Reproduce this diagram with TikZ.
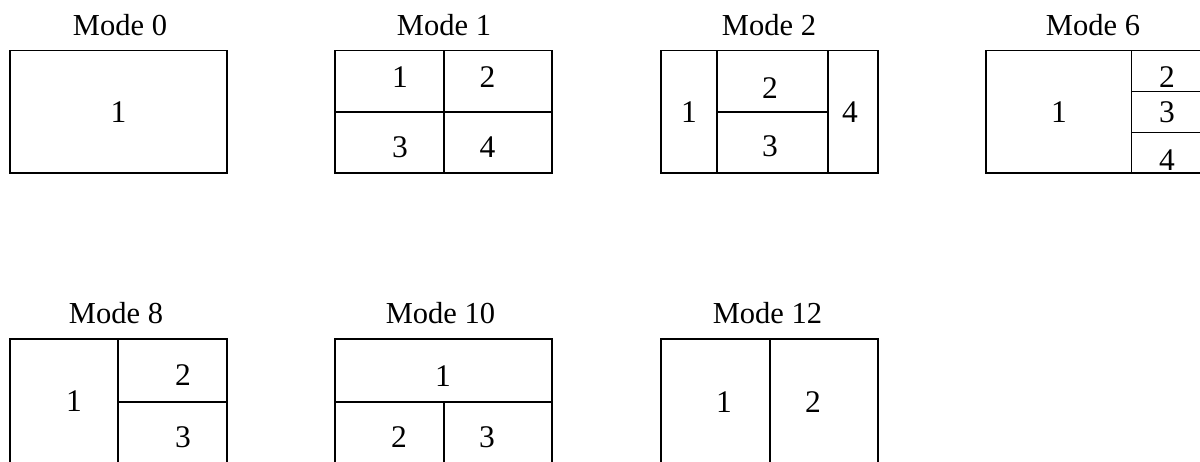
\documentclass[tikz,border=0pt]{standalone}
\usepackage{fontspec}
\setmainfont{Liberation Serif}

\tikzset{
  frame/.style={draw, line width=1.6pt},
  num/.style={font=\fontsize{31.5}{36}\selectfont, inner sep=0pt},
  title/.style={font=\fontsize{30.5}{36}\selectfont, inner sep=0pt}
}

\begin{document}
\begin{tikzpicture}[x=1pt,y=-1pt]
  \useasboundingbox (0,0) rectangle (1200,462);
  % Mode 0
  \node[title] (t0) at (120,25) {Mode 0};
  \draw[frame] (10,50.5) rectangle (227,173);
  \node[num] (m0a) at (118.5,112) {1};
  % Mode 1
  \node[title] (t1) at (444,25) {Mode 1};
  \draw[frame] (335,50.5) rectangle (552,173);
  \draw[frame] (444,50.5) -- (444,173);
  \draw[frame] (335,112) -- (552,112);
  \node[num] (m1a) at (400,77) {1};
  \node[num] (m1b) at (487.5,77) {2};
  \node[num] (m1c) at (400,147) {3};
  \node[num] (m1d) at (487.5,147) {4};
  % Mode 2
  \node[title] (t2) at (769,25) {Mode 2};
  \draw[frame] (661,50.5) rectangle (878,173);
  \draw[frame] (717,50.5) -- (717,173);
  \draw[frame] (828,50.5) -- (828,173);
  \draw[frame] (717,112) -- (828,112);
  \node[num] (m2a) at (689,112) {1};
  \node[num] (m2b) at (770,88) {2};
  \node[num] (m2c) at (770,146) {3};
  \node[num] (m2d) at (850,112) {4};
  % Mode 6
  \node[title] (t6) at (1093,25) {Mode 6};
  \draw[frame] (986,50.5) rectangle (1203,173);
  \draw[frame] (1131.5,50.5) -- (1131.5,173);
  \draw[frame] (1131.5,91.5) -- (1203,91.5);
  \draw[frame] (1131.5,132.5) -- (1203,132.5);
  \node[num] (m6a) at (1059,112) {1};
  \node[num] (m6b) at (1167,77) {2};
  \node[num] (m6c) at (1167,112) {3};
  \node[num] (m6d) at (1167,160) {4};
  % Mode 8
  \node[title] (t8) at (116,313) {Mode 8};
  \draw[frame] (10,339) rectangle (227,462.5);
  \draw[frame] (118,339) -- (118,462.5);
  \draw[frame] (118,402) -- (227,402);
  \node[num] (m8a) at (74,401) {1};
  \node[num] (m8b) at (183,375) {2};
  \node[num] (m8c) at (183,437) {3};
  % Mode 10
  \node[title] (t10) at (440.5,313) {Mode 10};
  \draw[frame] (335,339) rectangle (552,462.5);
  \draw[frame] (335,402) -- (552,402);
  \draw[frame] (444,402) -- (444,462.5);
  \node[num] (m10a) at (443,376) {1};
  \node[num] (m10b) at (399,437) {2};
  \node[num] (m10c) at (487,437) {3};
  % Mode 12
  \node[title] (t12) at (767.5,313) {Mode 12};
  \draw[frame] (661,339) rectangle (878,462.5);
  \draw[frame] (770,339) -- (770,462.5);
  \node[num] (m12a) at (724,402) {1};
  \node[num] (m12b) at (813,402) {2};
\end{tikzpicture}
\end{document}
